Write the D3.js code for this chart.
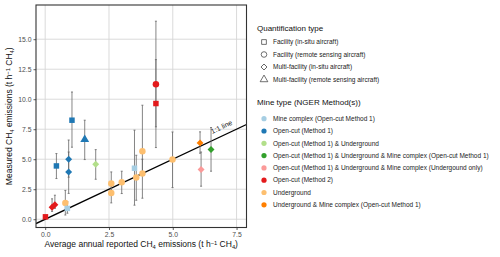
<!DOCTYPE html>
<html>
<head>
<meta charset="utf-8">
<script src="https://cdn.jsdelivr.net/npm/d3@7"></script>
<style>
  html, body { margin: 0; padding: 0; background: #fff; }
  svg { display: block; font-family: "Liberation Sans", Arial, sans-serif; }
</style>
</head>
<body>
<div id="chart"></div>
<script>
// Measured vs reported CH4 emissions per mine, with 1:1 reference line.

const QUANT_TYPES = [
  "Facility (in-situ aircraft)",
  "Facility (remote sensing aircraft)",
  "Multi-facility (in-situ aircraft)",
  "Multi-facility (remote sensing aircraft)"
];

const MINE_TYPES = [
  "Mine complex (Open-cut Method 1)",
  "Open-cut (Method 1)",
  "Open-cut (Method 1) & Underground",
  "Open-cut (Method 1) & Underground & Mine complex (Open-cut Method 1)",
  "Open-cut (Method 1) & Underground & Mine complex (Undergound only)",
  "Open-cut (Method 2)",
  "Underground",
  "Underground & Mine complex (Open-cut Method 1)"
];

const MINE_COLORS = ["#a6cee3", "#1f78b4", "#b2df8a", "#33a02c", "#fb9a99", "#e31a1c", "#fdbf6f", "#ff7f00"];

// one entry per observation
const reported = [0.01, 0.27, 0.38, 0.79, 0.87, 0.44, 1.05, 0.92, 0.92, 1.55, 1.98, 2.59, 2.59, 3.00, 3.50, 3.57, 3.81, 3.81, 4.34, 4.34, 4.99, 6.07, 6.11, 6.50];
const measured = [0.20, 1.00, 1.20, 1.36, 0.90, 4.44, 8.25, 5.00, 3.94, 6.64, 4.58, 2.97, 2.19, 3.08, 4.25, 3.47, 5.67, 3.80, 9.64, 11.25, 4.97, 6.36, 4.14, 5.81];
const measLo   = [null, 0.65, 0.90, 0.35, 0.50, 3.39, 6.00, 3.50, 2.15, 4.97, 3.33, 2.00, 1.36, 2.14, 1.17, 1.58, 3.80, 1.75, 5.97, 7.70, 2.64, 5.50, 2.75, 4.00];
const measHi   = [null, 1.70, 2.00, 2.40, 1.45, 5.47, 10.60, 6.60, 5.60, 8.25, 5.80, 3.94, 3.00, 4.00, 7.42, 5.33, 9.50, 5.00, 13.30, 16.50, 7.27, 7.28, 5.60, 7.64];
const quantIdx = [0, 2, 2, 1, 0, 0, 0, 2, 2, 3, 2, 1, 1, 1, 0, 1, 1, 1, 0, 1, 1, 2, 2, 2];
const mineIdx  = [5, 5, 5, 6, 0, 1, 1, 1, 1, 1, 2, 6, 6, 6, 0, 6, 6, 6, 5, 5, 6, 7, 4, 3];

const xTicks = [0, 2.5, 5, 7.5];
const yTicks = [0, 2.5, 5, 7.5, 10, 12.5, 15];

const W = 500, H = 257;
const panel = { left: 36, right: 246.5, top: 5, bottom: 227.5 };

const svg = d3.select("#chart").append("svg")
  .attr("width", W).attr("height", H);

const x = d3.scaleLinear().domain([-0.36, 7.89]).range([panel.left, panel.right]);
const y = d3.scaleLinear().domain([-0.69, 17.85]).range([panel.bottom, panel.top]);

// panel background + grid
svg.append("rect")
  .attr("x", panel.left).attr("y", panel.top)
  .attr("width", panel.right - panel.left).attr("height", panel.bottom - panel.top)
  .attr("fill", "#fff");

const grid = svg.append("g");
xTicks.forEach(t => {
  grid.append("line")
    .attr("x1", x(t)).attr("x2", x(t))
    .attr("y1", panel.top).attr("y2", panel.bottom)
    .attr("stroke", "#d6d6d6").attr("stroke-width", 0.9);
});
yTicks.forEach(t => {
  grid.append("line")
    .attr("x1", panel.left).attr("x2", panel.right)
    .attr("y1", y(t)).attr("y2", y(t))
    .attr("stroke", "#d6d6d6").attr("stroke-width", 0.9);
});

svg.append("clipPath").attr("id", "pclip")
  .append("rect")
  .attr("x", panel.left).attr("y", panel.top)
  .attr("width", panel.right - panel.left).attr("height", panel.bottom - panel.top);

// 1:1 line
const [d0, d1] = x.domain();
svg.append("line")
  .attr("clip-path", "url(#pclip)")
  .attr("x1", x(d0)).attr("y1", y(d0))
  .attr("x2", x(d1)).attr("y2", y(d1))
  .attr("stroke", "#000").attr("stroke-width", 1.3);

const ang = Math.atan2(y(7) - y(6), x(7) - x(6)) * 180 / Math.PI;
svg.append("text")
  .attr("transform", `translate(${x(7.05) - 2.5},${y(7.05) - 5.5}) rotate(${ang})`)
  .attr("text-anchor", "middle")
  .attr("font-size", "7px")
  .attr("fill", "#222")
  .text("1:1 line");

// error bars
const rows = reported.map((r, i) => ({
  x: r, y: measured[i], lo: measLo[i], hi: measHi[i], q: quantIdx[i], m: mineIdx[i]
}));
const eb = svg.append("g").attr("stroke", "#666").attr("stroke-width", 0.8);
rows.filter(d => d.lo != null).forEach(d => {
  eb.append("line")
    .attr("x1", x(d.x)).attr("x2", x(d.x))
    .attr("y1", y(d.lo)).attr("y2", y(d.hi));
  [d.lo, d.hi].forEach(v => {
    eb.append("line")
      .attr("x1", x(d.x) - 1).attr("x2", x(d.x) + 1)
      .attr("y1", y(v)).attr("y2", y(v));
  });
});

// shapes
function shapePath(q, scale) {
  const s = scale || 1;
  if (q === 0) return d3.symbol(d3.symbolSquare, 30 * s)();
  if (q === 1) return d3.symbol(d3.symbolCircle, 33 * s)();
  if (q === 2) return d3.symbol(d3.symbolSquare, 24 * s)();
  return d3.symbol(d3.symbolTriangle, 34 * s)();
}

svg.append("g").selectAll("path")
  .data(rows)
  .join("path")
    .attr("d", d => shapePath(d.q))
    .attr("transform", d => `translate(${x(d.x)},${y(d.y)})${d.q === 2 ? " rotate(45)" : ""}`)
    .attr("fill", d => MINE_COLORS[d.m]);

// panel border
svg.append("rect")
  .attr("x", panel.left).attr("y", panel.top)
  .attr("width", panel.right - panel.left).attr("height", panel.bottom - panel.top)
  .attr("fill", "none").attr("stroke", "#333").attr("stroke-width", 1.1);

// axes
const xAxis = svg.append("g")
  .attr("transform", `translate(0,${panel.bottom})`)
  .call(d3.axisBottom(x).tickValues(xTicks).tickFormat(d3.format(".1f")).tickSize(2.5).tickPadding(2));
const yAxis = svg.append("g")
  .attr("transform", `translate(${panel.left},0)`)
  .call(d3.axisLeft(y).tickValues(yTicks).tickFormat(d3.format(".1f")).tickSize(2.5).tickPadding(2));
[xAxis, yAxis].forEach(a => {
  a.select(".domain").remove();
  a.selectAll(".tick line").attr("stroke", "#333").attr("stroke-width", 0.8);
  a.selectAll("text")
    .attr("fill", "#4d4d4d")
    .attr("font-size", "6.8px")
    .attr("font-family", "Liberation Sans, Arial, sans-serif");
});

function chemTitle(sel, before) {
  sel.append("tspan").text(before + "CH");
  sel.append("tspan").attr("baseline-shift", "-25%").attr("font-size", "5.8px").text("4");
  sel.append("tspan").text(" emissions (t h");
  sel.append("tspan").attr("baseline-shift", "35%").attr("font-size", "5.8px").text("−1");
  sel.append("tspan").text(" CH");
  sel.append("tspan").attr("baseline-shift", "-25%").attr("font-size", "5.8px").text("4");
  sel.append("tspan").text(")");
}

const xTitle = svg.append("text")
  .attr("x", (panel.left + panel.right) / 2).attr("y", 246.5)
  .attr("text-anchor", "middle").attr("font-size", "8.5px").attr("fill", "#111");
chemTitle(xTitle, "Average annual reported ");

const yTitle = svg.append("text")
  .attr("transform", `translate(11.5,${(panel.top + panel.bottom) / 2}) rotate(-90)`)
  .attr("text-anchor", "middle").attr("font-size", "8.5px").attr("fill", "#111");
chemTitle(yTitle, "Measured ");

// legends
const lg = svg.append("g").attr("font-family", "Liberation Sans, Arial, sans-serif");
const LX = 257;

lg.append("text").attr("x", LX).attr("y", 31)
  .attr("font-size", "8px").attr("fill", "#111").text("Quantification type");
QUANT_TYPES.forEach((label, i) => {
  const cy = 42 + i * 12.5;
  lg.append("path")
    .attr("d", shapePath(i, 0.75))
    .attr("transform", `translate(${LX + 7},${cy})${i === 2 ? " rotate(45)" : ""}`)
    .attr("fill", "none").attr("stroke", "#333").attr("stroke-width", 0.7);
  lg.append("text").attr("x", LX + 16).attr("y", cy).attr("dy", "0.35em")
    .attr("font-size", "6.5px").attr("fill", "#222").text(label);
});

lg.append("text").attr("x", LX).attr("y", 105)
  .attr("font-size", "8px").attr("fill", "#111").text("Mine type (NGER Method(s))");
MINE_TYPES.forEach((label, i) => {
  const cy = 118.7 + i * 12.3;
  lg.append("circle").attr("cx", LX + 7).attr("cy", cy).attr("r", 2.6)
    .attr("fill", MINE_COLORS[i]);
  lg.append("text").attr("x", LX + 16).attr("y", cy).attr("dy", "0.35em")
    .attr("font-size", "6.5px").attr("fill", "#222").text(label);
});
</script>
</body>
</html>
